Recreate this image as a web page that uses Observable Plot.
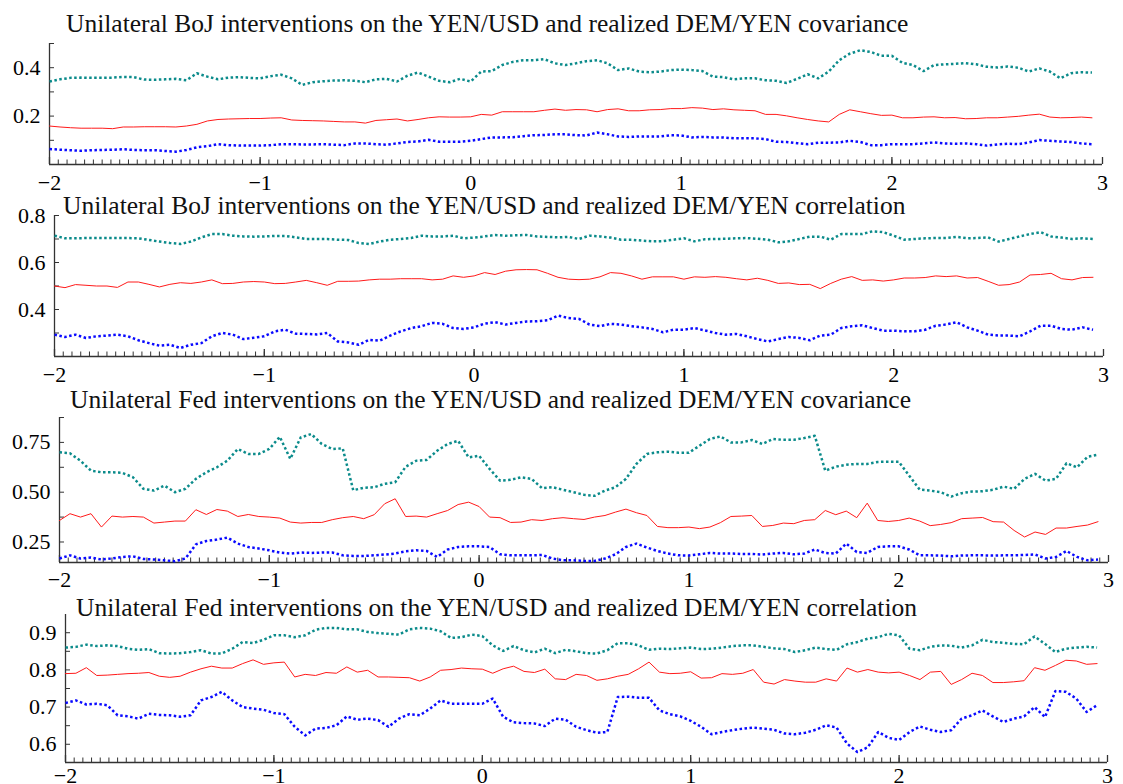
<!DOCTYPE html>
<html><head><meta charset="utf-8">
<script src="https://cdn.jsdelivr.net/npm/d3@7"></script>
<script src="https://cdn.jsdelivr.net/npm/@observablehq/plot@0.6"></script>
<style>
body{margin:0;background:#fff;}
#chart{position:relative;width:1123px;height:784px;overflow:hidden;background:#fff;}
#chart svg{position:absolute;left:0;overflow:visible;}
</style></head>
<body><div id="chart"></div>
<script>
// x positions (days around intervention)
const xs = [
-2,-1.95,-1.9,-1.85,-1.8,-1.75,-1.7,-1.65,-1.6,-1.55,
-1.5,-1.45,-1.4,-1.35,-1.3,-1.25,-1.2,-1.15,-1.1,-1.05,
-1,-0.95,-0.9,-0.85,-0.8,-0.75,-0.7,-0.65,-0.6,-0.55,
-0.5,-0.45,-0.4,-0.35,-0.3,-0.25,-0.2,-0.15,-0.1,-0.05,
0,0.05,0.1,0.15,0.2,0.25,0.3,0.35,0.4,0.45,
0.5,0.55,0.6,0.65,0.7,0.75,0.8,0.85,0.9,0.95,
1,1.05,1.1,1.15,1.2,1.25,1.3,1.35,1.4,1.45,
1.5,1.55,1.6,1.65,1.7,1.75,1.8,1.85,1.9,1.95,
2,2.05,2.1,2.15,2.2,2.25,2.3,2.35,2.4,2.45,
2.5,2.55,2.6,2.65,2.7,2.75,2.8,2.85,2.9,2.95];

const titles = [
 "Unilateral BoJ interventions on the YEN/USD and realized DEM/YEN covariance",
 "Unilateral BoJ interventions on the YEN/USD and realized DEM/YEN correlation",
 "Unilateral Fed interventions on the YEN/USD and realized DEM/YEN covariance",
 "Unilateral Fed interventions on the YEN/USD and realized DEM/YEN correlation"];

const xTickLabels = [-2,-1,0,1,2,3];
const p1YTicks = [0.2,0.4];
const p2YTicks = [0.4,0.6,0.8];
const p3YTicks = [0.25,0.5,0.75];
const p4YTicks = [0.6,0.7,0.8,0.9];

// Panel 1: BoJ covariance
const p1Upper = [
0.343,0.352,0.358,0.359,0.358,0.358,0.359,0.362,0.361,0.351,
0.350,0.352,0.354,0.348,0.377,0.363,0.352,0.359,0.361,0.358,
0.356,0.365,0.371,0.356,0.329,0.340,0.344,0.347,0.348,0.346,
0.340,0.352,0.354,0.343,0.367,0.380,0.363,0.346,0.340,0.354,
0.343,0.384,0.386,0.411,0.424,0.431,0.431,0.435,0.418,0.411,
0.418,0.427,0.431,0.418,0.390,0.397,0.384,0.381,0.384,0.390,
0.392,0.390,0.386,0.363,0.361,0.352,0.356,0.356,0.348,0.346,
0.337,0.354,0.373,0.356,0.384,0.431,0.458,0.472,0.465,0.449,
0.449,0.420,0.411,0.386,0.411,0.414,0.416,0.419,0.414,0.404,
0.401,0.405,0.400,0.384,0.397,0.384,0.356,0.377,0.381,0.380];
const p1Mid = [
0.159,0.155,0.152,0.150,0.150,0.150,0.148,0.155,0.155,0.156,
0.156,0.156,0.155,0.159,0.166,0.180,0.186,0.188,0.189,0.190,
0.190,0.192,0.193,0.184,0.182,0.181,0.180,0.178,0.176,0.176,
0.171,0.182,0.185,0.188,0.180,0.186,0.193,0.197,0.196,0.196,
0.197,0.207,0.204,0.218,0.218,0.218,0.218,0.224,0.229,0.224,
0.227,0.226,0.218,0.227,0.230,0.222,0.222,0.226,0.227,0.231,
0.231,0.235,0.233,0.227,0.230,0.226,0.224,0.222,0.207,0.207,
0.201,0.193,0.186,0.180,0.176,0.207,0.226,0.218,0.210,0.203,
0.204,0.193,0.193,0.196,0.197,0.193,0.194,0.189,0.190,0.193,
0.193,0.196,0.199,0.204,0.208,0.196,0.193,0.194,0.196,0.193];
const p1Lower = [
0.064,0.061,0.059,0.057,0.059,0.060,0.061,0.063,0.060,0.059,
0.059,0.056,0.053,0.060,0.071,0.076,0.084,0.080,0.078,0.078,
0.078,0.080,0.084,0.084,0.083,0.083,0.084,0.082,0.080,0.087,
0.087,0.084,0.082,0.087,0.093,0.095,0.102,0.094,0.094,0.094,
0.098,0.105,0.112,0.112,0.113,0.117,0.121,0.122,0.125,0.125,
0.121,0.120,0.132,0.125,0.116,0.114,0.116,0.116,0.116,0.121,
0.120,0.112,0.114,0.112,0.112,0.108,0.108,0.108,0.105,0.094,
0.093,0.088,0.084,0.090,0.090,0.091,0.098,0.093,0.080,0.080,
0.084,0.084,0.084,0.087,0.091,0.087,0.086,0.087,0.084,0.078,
0.083,0.086,0.084,0.091,0.101,0.098,0.095,0.093,0.087,0.084];

// Panel 2: BoJ correlation
const p2Upper = [
0.714,0.703,0.703,0.704,0.704,0.704,0.704,0.704,0.703,0.696,
0.689,0.683,0.679,0.689,0.707,0.721,0.721,0.714,0.711,0.710,
0.711,0.713,0.713,0.707,0.700,0.700,0.700,0.697,0.696,0.683,
0.679,0.689,0.697,0.700,0.704,0.714,0.711,0.711,0.714,0.703,
0.706,0.711,0.717,0.714,0.716,0.717,0.711,0.709,0.707,0.709,
0.700,0.714,0.711,0.706,0.697,0.697,0.693,0.690,0.691,0.697,
0.703,0.690,0.699,0.700,0.701,0.703,0.704,0.701,0.697,0.686,
0.690,0.700,0.710,0.710,0.697,0.721,0.721,0.721,0.733,0.729,
0.714,0.697,0.700,0.703,0.704,0.704,0.709,0.703,0.704,0.707,
0.689,0.700,0.711,0.721,0.729,0.711,0.706,0.700,0.703,0.700];
const p2Mid = [
0.500,0.493,0.506,0.503,0.500,0.500,0.494,0.517,0.517,0.507,
0.496,0.507,0.514,0.511,0.517,0.526,0.510,0.511,0.517,0.519,
0.517,0.510,0.511,0.517,0.524,0.514,0.503,0.520,0.520,0.521,
0.526,0.529,0.529,0.531,0.531,0.531,0.526,0.529,0.543,0.537,
0.543,0.557,0.549,0.563,0.569,0.570,0.569,0.554,0.537,0.529,
0.527,0.529,0.539,0.557,0.554,0.543,0.529,0.539,0.539,0.539,
0.529,0.539,0.537,0.540,0.537,0.531,0.526,0.533,0.524,0.511,
0.513,0.506,0.507,0.489,0.511,0.529,0.540,0.524,0.526,0.521,
0.526,0.534,0.534,0.536,0.543,0.540,0.543,0.534,0.536,0.520,
0.503,0.506,0.517,0.547,0.549,0.554,0.531,0.526,0.536,0.537];
const p2Lower = [
0.293,0.283,0.293,0.279,0.286,0.289,0.293,0.286,0.269,0.257,
0.246,0.250,0.236,0.250,0.257,0.286,0.300,0.293,0.274,0.280,
0.286,0.307,0.314,0.297,0.296,0.294,0.300,0.264,0.260,0.250,
0.271,0.267,0.289,0.307,0.321,0.329,0.343,0.339,0.321,0.317,
0.324,0.340,0.346,0.336,0.343,0.349,0.350,0.354,0.374,0.364,
0.360,0.336,0.329,0.339,0.336,0.329,0.324,0.317,0.303,0.314,
0.314,0.321,0.311,0.300,0.293,0.296,0.286,0.274,0.264,0.274,
0.283,0.279,0.269,0.289,0.293,0.321,0.329,0.333,0.321,0.310,
0.310,0.307,0.307,0.314,0.331,0.336,0.346,0.324,0.310,0.293,
0.289,0.289,0.286,0.307,0.331,0.331,0.317,0.314,0.324,0.314];

// Panel 3: Fed covariance
const p3Upper = [
0.700,0.695,0.658,0.608,0.600,0.600,0.597,0.575,0.517,0.508,
0.533,0.500,0.517,0.567,0.600,0.625,0.658,0.717,0.692,0.692,
0.717,0.778,0.667,0.775,0.792,0.742,0.717,0.720,0.510,0.522,
0.525,0.542,0.550,0.628,0.658,0.662,0.708,0.742,0.758,0.675,
0.683,0.617,0.558,0.562,0.575,0.567,0.520,0.525,0.512,0.500,
0.487,0.482,0.508,0.525,0.567,0.642,0.692,0.700,0.703,0.698,
0.698,0.733,0.767,0.780,0.750,0.750,0.762,0.742,0.767,0.763,
0.763,0.772,0.783,0.608,0.628,0.638,0.642,0.642,0.652,0.653,
0.653,0.583,0.513,0.508,0.500,0.478,0.495,0.503,0.505,0.512,
0.528,0.517,0.567,0.592,0.558,0.567,0.645,0.625,0.678,0.688];
const p3Mid = [
0.358,0.392,0.375,0.392,0.325,0.380,0.375,0.378,0.375,0.345,
0.350,0.355,0.355,0.412,0.388,0.413,0.405,0.378,0.388,0.378,
0.375,0.370,0.350,0.345,0.348,0.348,0.362,0.372,0.378,0.367,
0.387,0.442,0.467,0.378,0.380,0.375,0.392,0.408,0.438,0.450,
0.428,0.375,0.372,0.348,0.350,0.362,0.358,0.367,0.372,0.367,
0.363,0.375,0.383,0.400,0.415,0.397,0.383,0.328,0.322,0.322,
0.325,0.317,0.325,0.347,0.378,0.380,0.383,0.328,0.333,0.345,
0.342,0.358,0.362,0.408,0.387,0.405,0.372,0.445,0.358,0.353,
0.358,0.370,0.355,0.332,0.338,0.347,0.367,0.370,0.373,0.352,
0.350,0.308,0.275,0.300,0.288,0.320,0.320,0.328,0.335,0.352];
const p3Lower = [
0.167,0.183,0.167,0.172,0.162,0.167,0.175,0.178,0.165,0.162,
0.158,0.153,0.167,0.238,0.255,0.262,0.272,0.242,0.225,0.217,
0.208,0.197,0.192,0.197,0.195,0.197,0.197,0.183,0.180,0.180,
0.183,0.187,0.192,0.203,0.208,0.205,0.175,0.212,0.225,0.228,
0.228,0.225,0.188,0.183,0.183,0.183,0.185,0.167,0.158,0.158,
0.155,0.155,0.167,0.188,0.225,0.242,0.222,0.205,0.192,0.183,
0.182,0.188,0.195,0.192,0.192,0.190,0.190,0.187,0.192,0.195,
0.188,0.192,0.212,0.195,0.192,0.242,0.200,0.195,0.225,0.228,
0.228,0.212,0.183,0.183,0.182,0.178,0.182,0.183,0.183,0.182,
0.183,0.183,0.185,0.187,0.167,0.175,0.205,0.175,0.158,0.162];

// Panel 4: Fed correlation
const p4Upper = [
0.860,0.862,0.868,0.864,0.866,0.864,0.857,0.854,0.856,0.845,
0.844,0.845,0.848,0.853,0.844,0.844,0.857,0.875,0.872,0.881,
0.893,0.893,0.888,0.893,0.908,0.913,0.913,0.909,0.909,0.902,
0.899,0.897,0.895,0.909,0.913,0.911,0.904,0.886,0.888,0.895,
0.891,0.866,0.851,0.864,0.853,0.847,0.857,0.845,0.854,0.850,
0.845,0.844,0.853,0.872,0.872,0.866,0.854,0.857,0.856,0.858,
0.860,0.856,0.857,0.860,0.864,0.866,0.866,0.862,0.858,0.856,
0.848,0.853,0.860,0.856,0.854,0.869,0.875,0.884,0.888,0.897,
0.893,0.857,0.853,0.862,0.866,0.865,0.860,0.866,0.881,0.875,
0.873,0.870,0.869,0.890,0.870,0.848,0.857,0.860,0.862,0.860];
const p4Mid = [
0.790,0.791,0.806,0.785,0.786,0.788,0.790,0.791,0.793,0.783,
0.780,0.783,0.794,0.803,0.810,0.805,0.805,0.817,0.827,0.815,
0.819,0.821,0.781,0.788,0.785,0.793,0.791,0.808,0.794,0.799,
0.781,0.781,0.780,0.779,0.770,0.781,0.799,0.801,0.805,0.803,
0.802,0.791,0.803,0.810,0.796,0.793,0.802,0.776,0.774,0.788,
0.785,0.772,0.776,0.783,0.788,0.803,0.821,0.794,0.790,0.791,
0.795,0.778,0.779,0.790,0.788,0.791,0.801,0.767,0.762,0.774,
0.770,0.767,0.767,0.776,0.770,0.805,0.794,0.801,0.794,0.792,
0.794,0.785,0.774,0.794,0.796,0.761,0.774,0.791,0.785,0.766,
0.766,0.768,0.771,0.806,0.799,0.812,0.826,0.824,0.815,0.817];
const p4Lower = [
0.711,0.718,0.707,0.709,0.705,0.678,0.675,0.669,0.682,0.679,
0.678,0.674,0.678,0.718,0.727,0.741,0.718,0.700,0.696,0.693,
0.684,0.681,0.647,0.624,0.642,0.644,0.651,0.675,0.666,0.669,
0.665,0.647,0.669,0.681,0.678,0.696,0.718,0.709,0.709,0.709,
0.709,0.723,0.674,0.659,0.657,0.656,0.649,0.669,0.666,0.647,
0.638,0.631,0.633,0.727,0.728,0.725,0.725,0.691,0.681,0.675,
0.663,0.647,0.627,0.633,0.638,0.642,0.645,0.642,0.639,0.629,
0.627,0.631,0.639,0.651,0.645,0.602,0.579,0.592,0.633,0.617,
0.612,0.633,0.648,0.639,0.633,0.638,0.669,0.678,0.691,0.675,
0.660,0.669,0.675,0.700,0.673,0.743,0.741,0.723,0.687,0.705];

const TEAL = "#0b8b8b", RED = "#ff1a1a", BLUE = "#0a0aff", AXIS = "#333";
const FONT = "Liberation Serif, Times New Roman, serif";

const panels = [
  {top:0,   h:195, mt:43, mb:31, ml:49, mr:21, y:[0,0.5],     yt:p1YTicks, yminor:[0.1,0.2,0.3,0.4,0.5], fmt:d=>d.toFixed(1), pad:10, tx:66, ty:32, title:titles[0], s:[p1Upper,p1Mid,p1Lower]},
  {top:195, h:195, mt:20, mb:34, ml:54, mr:20, y:[0.2,0.8],   yt:p2YTicks, yminor:[0.3,0.4,0.5,0.6,0.7,0.8], fmt:d=>d.toFixed(1), pad:10, tx:63, ty:19, title:titles[1], s:[p2Upper,p2Mid,p2Lower]},
  {top:390, h:200, mt:27, mb:28, ml:59, mr:15, y:[0.147,0.875], yt:p3YTicks, yminor:[0.25,0.375,0.5,0.625,0.75,0.875], fmt:d=>d.toFixed(2), pad:9, tx:70, ty:18, title:titles[2], s:[p3Upper,p3Mid,p3Lower]},
  {top:590, h:194, mt:24, mb:22, ml:65, mr:16, y:[0.551,0.949], yt:p4YTicks, yminor:[0.6,0.65,0.7,0.75,0.8,0.85,0.9], fmt:d=>d.toFixed(1), pad:5, tx:76, ty:26, title:titles[3], s:[p4Upper,p4Mid,p4Lower]}
];

const minorX = d3.range(0, 121).map(i => -2 + i/24);
const fmtX = d => d < 0 ? "\u2212" + Math.abs(d) : String(d);

const chart = document.getElementById("chart");
for (const p of panels) {
  const W = 1123, fh = p.h - p.mt - p.mb, fw = W - p.ml - p.mr;
  const rows = (arr) => xs.map((x, i) => ({x, y: arr[i]}));
  const svg = Plot.plot({
    width: W, height: p.h,
    marginTop: p.mt, marginBottom: p.mb, marginLeft: p.ml, marginRight: p.mr,
    x: {domain: [-2, 3], label: null},
    y: {domain: p.y, label: null},
    style: {fontFamily: FONT, fontSize: "22px", background: "transparent", color: "#000"},
    marks: [
      Plot.ruleX([-2], {stroke: AXIS, strokeWidth: 1.3}),
      Plot.ruleY([p.y[0]], {stroke: AXIS, strokeWidth: 1.3}),
      Plot.tickX(minorX, {x: d => d, stroke: AXIS, insetTop: fh - 4.5}),
      Plot.tickX(xTickLabels, {x: d => d, stroke: AXIS, strokeWidth: 1.3, insetTop: fh - 7}),
      Plot.tickY(p.yminor, {y: d => d, stroke: AXIS, insetRight: fw - 5}),
      Plot.axisX({ticks: xTickLabels, tickSize: 0, tickPadding: p.pad, tickFormat: fmtX, fontSize: 22, fill: "#000", label: null}),
      Plot.axisY({ticks: p.yt, tickSize: 0, tickPadding: 9, tickFormat: p.fmt, fontSize: 22, fill: "#000", label: null}),
      Plot.line(rows(p.s[1]), {x: "x", y: "y", stroke: RED, strokeWidth: 1}),
      Plot.line(rows(p.s[0]), {x: "x", y: "y", stroke: TEAL, strokeWidth: 2.5, strokeDasharray: "2.5,2.5", strokeLinecap: "butt"}),
      Plot.line(rows(p.s[2]), {x: "x", y: "y", stroke: BLUE, strokeWidth: 2.5, strokeDasharray: "2.5,2.5", strokeLinecap: "butt"})
    ]
  });
  svg.style.top = p.top + "px";
  d3.select(svg).append("text")
    .attr("x", p.tx).attr("y", p.ty)
    .attr("text-anchor", "start")
    .attr("font-family", FONT).attr("font-size", 25.5)
    .attr("fill", "#111")
    .text(p.title);
  chart.appendChild(svg);
}
</script>
</body></html>
